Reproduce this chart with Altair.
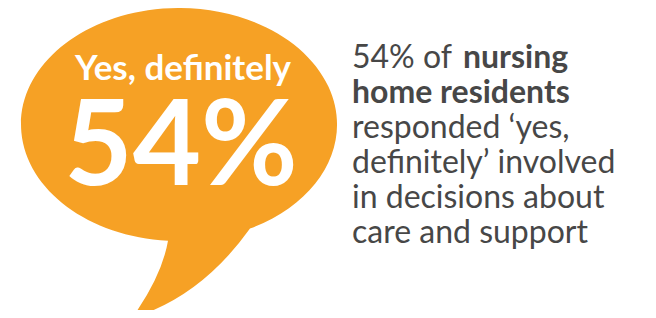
import altair as alt
import pandas as pd

# ---- content ----
headline_label = "Yes, definitely"
headline_value = 54
body_lines = [
    ["54% of ", "nursing"],
    ["home residents"],
    ["responded \u2018yes,"],
    ["definitely\u2019 involved"],
    ["in decisions about"],
    ["care and support"],
]
body_bold = [
    [False, True],
    [True],
    [False],
    [False],
    [False],
    [False],
]

ORANGE = "#F6A125"
GREY = "#474747"
FONT = "Lato"

# ---- layout (reference pixel space) ----
xs = alt.Scale(domain=[8, 648], nice=False, zero=False)
ys = alt.Scale(domain=[8, 310], nice=False, zero=False, reverse=True)

# speech bubble shape in symbol units ([-1,1] square)
BUBBLE = (
    "M -0.0692 0.514 "
    "A 0.9937 0.7327 0 1 1 0.4465 0.4377 "
    "Q 0.1384 0.868 -0.2956 1 "
    "Q -0.1069 0.7358 -0.0692 0.514 Z"
)

bubble_df = pd.DataFrame({"x": [179], "y": [159]})
bubble = alt.Chart(bubble_df).mark_point(
    shape=BUBBLE, size=318 * 318, filled=True, color=ORANGE, opacity=1, strokeWidth=0
).encode(
    x=alt.X("x:Q", scale=xs, axis=None),
    y=alt.Y("y:Q", scale=ys, axis=None),
)

head_df = pd.DataFrame({
    "text": [headline_label, f"{headline_value}%"],
    "x": [183, 181],
    "y": [80, 185],
    "fs": [35, 118],
})
head = alt.Chart(head_df).mark_text(
    font=FONT, fontWeight="bold", color="white", align="center", baseline="alphabetic"
).encode(
    x=alt.X("x:Q", scale=xs, axis=None),
    y=alt.Y("y:Q", scale=ys, axis=None),
    text="text:N",
    size=alt.Size("fs:Q", scale=None),
)

rows = []
seg_x = {0: [352, 463]}
for i, (segs, bolds) in enumerate(zip(body_lines, body_bold)):
    xs_line = seg_x.get(i, [352])
    for j, (s, b) in enumerate(zip(segs, bolds)):
        rows.append({"text": s, "x": xs_line[j], "y": 68 + 35 * i, "bold": b})
body_df = pd.DataFrame(rows)

def body_layer(bold):
    return alt.Chart(body_df[body_df["bold"] == bold]).mark_text(
        font=FONT, fontWeight="bold" if bold else "normal", fontSize=32,
        color=GREY, align="left", baseline="alphabetic"
    ).encode(
        x=alt.X("x:Q", scale=xs, axis=None),
        y=alt.Y("y:Q", scale=ys, axis=None),
        text="text:N",
    )

chart = alt.layer(bubble, head, body_layer(False), body_layer(True)).properties(
    width=640, height=302, padding=0, autosize=alt.AutoSizeParams(type="none")
).configure_view(stroke=None)

chart.save("out.html", embed_options={"renderer": "svg", "actions": False})
